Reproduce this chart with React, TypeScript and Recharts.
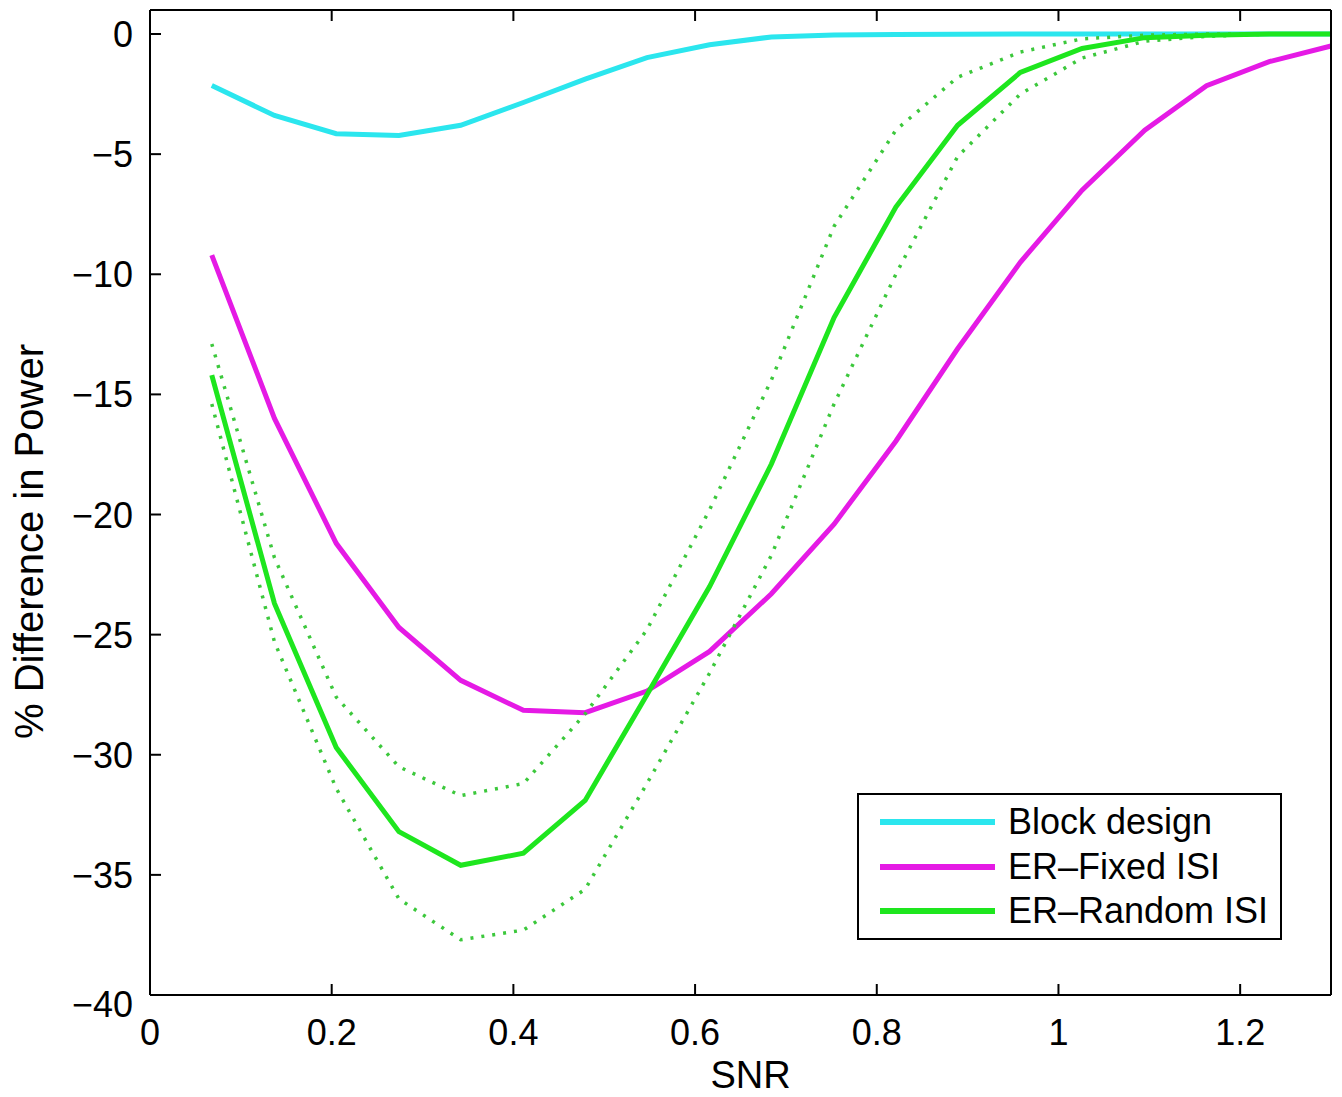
import React from 'react';
import { LineChart, Line, XAxis, YAxis, Legend, Label } from 'recharts';

const snr = [0.068, 0.137, 0.205, 0.274, 0.342, 0.411, 0.479, 0.547, 0.616, 0.684, 0.753, 0.821, 0.889, 0.958, 1.026, 1.095, 1.163, 1.232, 1.3];
const blockDesign = [-2.14, -3.39, -4.15, -4.22, -3.8, -2.85, -1.88, -0.98, -0.45, -0.12, -0.04, -0.02, -0.01, 0, 0, 0, 0, 0, 0];
const erFixed = [-9.2, -16.0, -21.2, -24.7, -26.9, -28.15, -28.25, -27.35, -25.7, -23.3, -20.4, -16.95, -13.1, -9.5, -6.5, -4.0, -2.15, -1.15, -0.5];
const erRandom = [-14.2, -23.7, -29.7, -33.2, -34.6, -34.1, -31.9, -27.5, -23.0, -17.9, -11.8, -7.2, -3.8, -1.6, -0.6, -0.15, -0.05, 0, 0];
const erRandomUpper = [-12.9, -21.8, -27.6, -30.5, -31.7, -31.2, -28.3, -24.8, -19.8, -14.4, -8.0, -4.0, -1.8, -0.75, -0.2, -0.05, 0, 0, 0];
const erRandomLower = [-15.4, -25.3, -31.4, -36.0, -37.7, -37.3, -35.6, -31.2, -26.6, -21.7, -15.4, -10.0, -5.1, -2.5, -1.0, -0.3, -0.1, 0, 0];

const xTicks = [0, 0.2, 0.4, 0.6, 0.8, 1, 1.2];
const yTicks = [0, -5, -10, -15, -20, -25, -30, -35, -40];
const seriesNames = ['Block design', 'ER\u2013Fixed ISI', 'ER\u2013Random ISI'];
const xLabel = 'SNR';
const yLabel = '% Difference in Power';

const data = snr.map((x, i) => ({
  snr: x,
  block: blockDesign[i],
  fixed: erFixed[i],
  random: erRandom[i],
  upper: erRandomUpper[i],
  lower: erRandomLower[i],
}));

const FONT = '"Liberation Sans", Arial, Helvetica, sans-serif';
const TICK_LEN = 11;
const CYAN = '#2be6ee';
const MAGENTA = '#e51ae5';
const GREEN = '#1ee61e';
const GREEN_DOT = '#3cc83c';

const fmtX = (v: number) => String(v);
const fmtY = (v: number) => (v < 0 ? '\u2212' + Math.abs(v) : String(v));

const BottomTick = (props: any) => {
  const { x, y, payload } = props;
  return (
    <g>
      <line x1={x} y1={y} x2={x} y2={y - TICK_LEN} stroke="#000" strokeWidth={2} />
      <text x={x} y={y + 50} textAnchor="middle" fontFamily={FONT} fontSize={36} fill="#000">
        {fmtX(payload.value)}
      </text>
    </g>
  );
};

const TopTick = (props: any) => {
  const { x, y } = props;
  return <line x1={x} y1={y} x2={x} y2={y + TICK_LEN} stroke="#000" strokeWidth={2} />;
};

const LeftTick = (props: any) => {
  const { x, y, payload } = props;
  const nudge = payload.value === -40 ? 9 : 0;
  return (
    <g>
      <line x1={x} y1={y} x2={x + TICK_LEN} y2={y} stroke="#000" strokeWidth={2} />
      <text x={x - 17} y={y + 13 + nudge} textAnchor="end" fontFamily={FONT} fontSize={36} fill="#000">
        {fmtY(payload.value)}
      </text>
    </g>
  );
};

const RightTick = (props: any) => {
  const { x, y } = props;
  return <line x1={x} y1={y} x2={x - TICK_LEN} y2={y} stroke="#000" strokeWidth={2} />;
};

const YAxisTitle = (props: any) => {
  const vb = props.viewBox || { x: 42, y: 2, width: 100, height: 985 };
  const cx = vb.x - 7;
  const cy = vb.y + vb.height / 2 + 39;
  return (
    <text
      x={cx}
      y={cy}
      transform={`rotate(-90, ${cx}, ${cy})`}
      textAnchor="middle"
      fontFamily={FONT}
      fontSize={40}
      fill="#000"
    >
      {yLabel}
    </text>
  );
};

const XAxisTitle = (props: any) => {
  const vb = props.viewBox || { x: 142, y: 987, width: 1181, height: 94 };
  const cx = vb.x + vb.width / 2 + 10;
  const cy = vb.y + vb.height - 1;
  return (
    <text x={cx} y={cy} textAnchor="middle" fontFamily={FONT} fontSize={38} fill="#000">
      {xLabel}
    </text>
  );
};

const LegendBox = (props: any) => {
  const payload = (props.payload || []).filter((p: any) => p.type !== 'none');
  const items = payload.length === 3
    ? payload.map((p: any) => ({ name: p.value, color: p.color }))
    : seriesNames.map((n, i) => ({ name: n, color: [CYAN, MAGENTA, GREEN][i] }));
  return (
    <div
      style={{
        width: 421,
        height: 143,
        border: '2px solid #000',
        background: '#fff',
        position: 'relative',
        fontFamily: FONT,
        fontSize: 36,
        color: '#000',
      }}
    >
      {items.map((it: any, i: number) => (
        <div
          key={i}
          style={{
            position: 'absolute',
            left: 0,
            top: 27 + i * 44.5 - 22,
            height: 44,
            display: 'flex',
            alignItems: 'center',
            whiteSpace: 'nowrap',
          }}
        >
          <div style={{ marginLeft: 21, width: 115, height: 6, background: it.color }} />
          <span style={{ marginLeft: 13, lineHeight: '44px' }}>{it.name}</span>
        </div>
      ))}
    </div>
  );
};

export default function App() {
  return (
    <div style={{ width: 1326, height: 1081, background: '#fff' }}>
      <style>{`.recharts-surface{overflow:visible}`}</style>
      <LineChart width={1326} height={1081} data={data} margin={{ top: 1, right: 2, bottom: 0, left: 42 }}>
        <XAxis
          xAxisId="b"
          dataKey="snr"
          type="number"
          domain={[0, 1.3]}
          ticks={xTicks}
          interval={0}
          orientation="bottom"
          height={94}
          tickSize={0}
          tickMargin={0}
          tickLine={false}
          axisLine={{ stroke: '#000', strokeWidth: 2 }}
          tick={<BottomTick />}
        >
          <Label content={<XAxisTitle />} />
        </XAxis>
        <XAxis
          xAxisId="t"
          dataKey="snr"
          type="number"
          domain={[0, 1.3]}
          ticks={xTicks}
          interval={0}
          orientation="top"
          height={1}
          tickSize={0}
          tickMargin={0}
          tickLine={false}
          axisLine={{ stroke: '#000', strokeWidth: 2 }}
          tick={<TopTick />}
        />
        <YAxis
          yAxisId="l"
          type="number"
          domain={[-40, 1]}
          ticks={yTicks}
          interval={0}
          orientation="left"
          width={100}
          tickSize={0}
          tickMargin={0}
          tickLine={false}
          axisLine={{ stroke: '#000', strokeWidth: 2 }}
          tick={<LeftTick />}
        >
          <Label content={<YAxisTitle />} />
        </YAxis>
        <YAxis
          yAxisId="r"
          type="number"
          domain={[-40, 1]}
          ticks={yTicks}
          interval={0}
          orientation="right"
          width={1}
          tickSize={0}
          tickMargin={0}
          tickLine={false}
          axisLine={{ stroke: '#000', strokeWidth: 2 }}
          tick={<RightTick />}
        />
        <Line xAxisId="b" yAxisId="l" type="linear" dataKey="block" name={seriesNames[0]} stroke={CYAN} strokeWidth={5} dot={false} activeDot={false} isAnimationActive={false} />
        <Line xAxisId="b" yAxisId="l" type="linear" dataKey="fixed" name={seriesNames[1]} stroke={MAGENTA} strokeWidth={5} dot={false} activeDot={false} isAnimationActive={false} />
        <Line xAxisId="b" yAxisId="l" type="linear" dataKey="upper" stroke={GREEN_DOT} strokeWidth={3.5} strokeDasharray="3 8" dot={false} activeDot={false} legendType="none" isAnimationActive={false} />
        <Line xAxisId="b" yAxisId="l" type="linear" dataKey="lower" stroke={GREEN_DOT} strokeWidth={3.5} strokeDasharray="3 8" dot={false} activeDot={false} legendType="none" isAnimationActive={false} />
        <Line xAxisId="b" yAxisId="l" type="linear" dataKey="random" name={seriesNames[2]} stroke={GREEN} strokeWidth={5} dot={false} activeDot={false} isAnimationActive={false} />
        <Legend
          layout="vertical"
          align="center"
          verticalAlign="middle"
          content={<LegendBox />}
          wrapperStyle={{ left: 849, top: 785, width: 'auto', height: 'auto' }}
        />
      </LineChart>
    </div>
  );
}
